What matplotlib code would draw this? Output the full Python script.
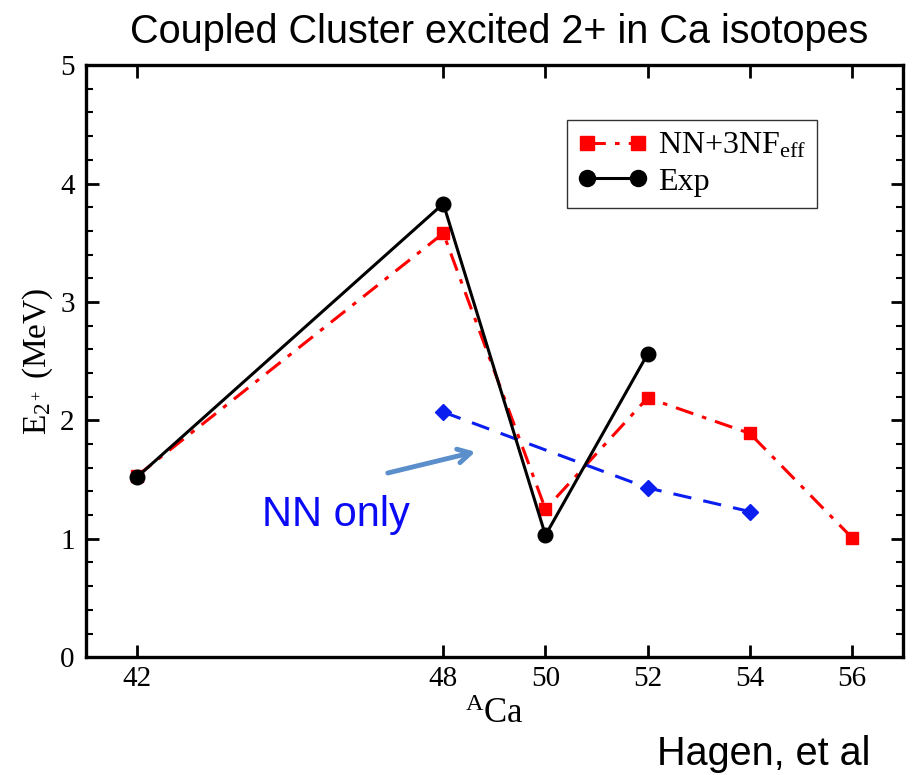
import matplotlib
matplotlib.use("Agg")
import matplotlib.pyplot as plt
from matplotlib import font_manager
from matplotlib.ticker import MultipleLocator, FixedLocator

# Mass numbers and 2+ excitation energies (MeV)
mass_3nf = [42, 48, 50, 52, 54, 56]
e2_3nf = [1.53, 3.58, 1.25, 2.19, 1.89, 1.01]

mass_exp = [42, 48, 50, 52]
e2_exp = [1.52, 3.83, 1.03, 2.56]

mass_nn = [48, 52, 54]
e2_nn = [2.07, 1.43, 1.23]

xticks = [42, 48, 50, 52, 54, 56]

available = {f.name for f in font_manager.fontManager.ttflist}
narrow = "Liberation Sans Narrow" if "Liberation Sans Narrow" in available else "Liberation Sans"
serif = "Liberation Serif"

plt.rcParams["mathtext.fontset"] = "custom"
plt.rcParams["mathtext.rm"] = serif
plt.rcParams["mathtext.it"] = serif + ":italic"

fig = plt.figure(figsize=(9.13, 7.75), dpi=100)
ax = fig.add_axes([0.094, 0.152, 0.895, 0.764])

ax.plot(mass_3nf, e2_3nf, color="red", ls=(0, (6, 3, 1.5, 3)), lw=2.2,
        marker="s", ms=9, label="NN+3NF$_{\\rm eff}$", zorder=3)
ax.plot(mass_exp, e2_exp, color="black", ls="-", lw=2.2,
        marker="o", ms=10.5, label="Exp", zorder=4)
ax.plot(mass_nn, e2_nn, color="#0a1ef0", ls=(0, (6, 4)), lw=2.2,
        marker="D", ms=8, zorder=3)

ax.set_xlim(41, 57)
ax.set_ylim(0, 5)
ax.xaxis.set_major_locator(FixedLocator(xticks))
ax.yaxis.set_major_locator(MultipleLocator(1))
ax.yaxis.set_minor_locator(MultipleLocator(0.2))

for s in ax.spines.values():
    s.set_linewidth(2.4)
ax.tick_params(which="both", direction="in", top=True, right=True,
               labelsize=21, width=2)
ax.tick_params(which="major", length=9)
ax.tick_params(which="minor", length=5, width=1.5)
ax.tick_params(axis="x", pad=6)
ax.tick_params(axis="y", pad=8)
for lbl in ax.get_xticklabels() + ax.get_yticklabels():
    lbl.set_fontfamily(serif)

ax.set_xlabel("$^{\\rm A}$Ca", fontsize=25, family=serif, labelpad=5)
ax.set_ylabel("E$_{2^+}$ (MeV)", fontsize=24, family=serif, labelpad=4)

leg = ax.legend(loc="upper right", bbox_to_anchor=(0.895, 0.907),
                numpoints=2, handlelength=2.2, frameon=True, fancybox=False,
                prop={"family": serif, "size": 23}, borderpad=0.35,
                labelspacing=0.2, handletextpad=0.3, borderaxespad=0,
                markerscale=1.1)
leg.get_frame().set_edgecolor("black")
leg.get_frame().set_linewidth(1.0)

ax.annotate("", xy=(48.68, 1.74), xytext=(46.86, 1.55),
            arrowprops=dict(arrowstyle="->,head_length=0.9,head_width=0.5",
                            lw=3.5, color="#5b8fcb"))
ax.text(44.45, 1.11, "NN only", color="#0a0af5", fontsize=30,
        family="Liberation Sans", va="baseline", ha="left")

fig.text(0.547, 0.944, "Coupled Cluster excited 2+ in Ca isotopes",
         fontsize=28.5, family=narrow, ha="center", va="baseline")
fig.text(0.953, 0.013, "Hagen, et al", fontsize=28.5, family=narrow,
         ha="right", va="baseline")

fig.savefig("out.png", dpi=100)
